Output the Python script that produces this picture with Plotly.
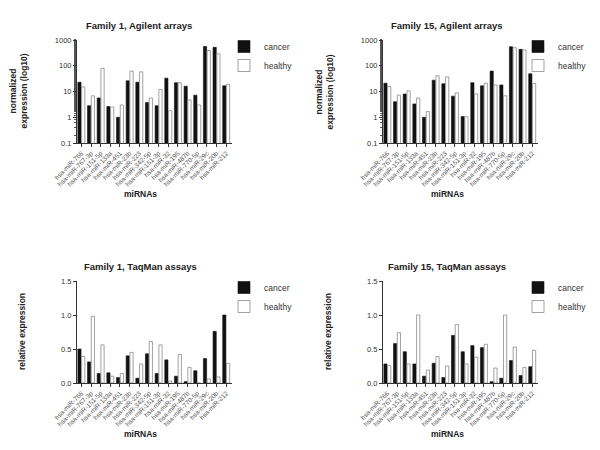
import plotly.graph_objects as go

mirnas = ["hsa-miR-766", "hsa-miR-767-3p", "hsa-miR-151-5p", "hsa-miR-133a",
          "hsa-miR-451", "hsa-miR-23b", "hsa-miR-223", "hsa-miR-342-5p",
          "hsa-miR-151-3p", "hsa-miR-32", "hsa-miR-195", "hsa-miR-487b",
          "hsa-miR-770-5p", "hsa-miR-29c", "hsa-miR-20b", "hsa-miR-212"]

f1_agilent_cancer = [23, 2.8, 5.6, 2.6, 1.0, 26, 23, 3.7, 2.8, 33, 22, 16, 7.2, 560, 520, 16.6]
f1_agilent_healthy = [15, 6.8, 79, 2.5, 3.0, 62, 58, 5.6, 12, 1.8, 22, 4.7, 3.0, 390, 290, 19]

f15_agilent_cancer = [21, 4.0, 8.0, 3.3, 1.0, 27.6, 20, 6.6, 1.06, 22, 16.6, 62, 18, 550, 433, 49]
f15_agilent_healthy = [15.6, 7.2, 10.6, 5.6, 1.66, 41, 37, 8.9, 1.05, 8.1, 21, 18, 6.8, 500, 410, 20.5]

f1_taqman_cancer = [0.50, 0.31, 0.14, 0.15, 0.08, 0.40, 0.07, 0.43, 0.14, 0.34, 0.10, 0.02, 0.18, 0.36, 0.76, 1.0]
f1_taqman_healthy = [0.39, 0.98, 0.56, 0.10, 0.14, 0.45, 0.28, 0.61, 0.56, 0.03, 0.42, 0.23, 0.0, 0.06, 0.09, 0.29]

f15_taqman_cancer = [0.28, 0.58, 0.46, 0.28, 0.10, 0.29, 0.08, 0.70, 0.46, 0.55, 0.52, 0.02, 0.07, 0.33, 0.11, 0.24]
f15_taqman_healthy = [0.26, 0.74, 0.28, 1.0, 0.19, 0.39, 0.25, 0.86, 0.28, 0.38, 0.57, 0.22, 1.0, 0.53, 0.23, 0.48]

titles = ["Family 1, Agilent arrays", "Family 15, Agilent arrays",
          "Family 1, TaqMan assays", "Family 15, TaqMan assays"]

W, H = 600, 450
OFF = 8  # default page margin of the browser body
FONT = "Liberation Sans, Arial, sans-serif"

def px_x(p):
    return (p - OFF) / W

def px_y(p):
    return 1 - (p - OFF) / H

panels = [
    dict(c=f1_agilent_cancer, h=f1_agilent_healthy, x0=77, x1=232, y0=40, y1=143, log=True,
         title=titles[0], tx=139, ty=25, lx=140, ly=194, yt="normalized<br>expression (log10)", ytx=18,
         legx=224, legy=32),
    dict(c=f15_agilent_cancer, h=f15_agilent_healthy, x0=383, x1=538, y0=40, y1=143, log=True,
         title=titles[1], tx=447, ty=25, lx=448, ly=194, yt="normalized<br>expression (log10)", ytx=324,
         legx=518, legy=32),
    dict(c=f1_taqman_cancer, h=f1_taqman_healthy, x0=77, x1=232, y0=281, y1=383, log=False,
         title=titles[2], tx=140, ty=266, lx=140, ly=434, yt="relative expression", ytx=22,
         legx=224, legy=273),
    dict(c=f15_taqman_cancer, h=f15_taqman_healthy, x0=383, x1=538, y0=281, y1=383, log=False,
         title=titles[3], tx=447, ty=266, lx=448, ly=434, yt="relative expression", ytx=328,
         legx=518, legy=273),
]

fig = go.Figure()
annotations = []
layout = {}

for i, p in enumerate(panels):
    n = "" if i == 0 else str(i + 1)
    xa, ya = "x" + n, "y" + n
    leg = "legend" + n
    fig.add_trace(go.Bar(x=mirnas, y=p["c"], name="cancer", xaxis=xa, yaxis=ya, legend=leg,
                         marker=dict(color="#111111", line=dict(color="#111111", width=0.6))))
    fig.add_trace(go.Bar(x=mirnas, y=p["h"], name="healthy", xaxis=xa, yaxis=ya, legend=leg,
                         marker=dict(color="white", line=dict(color="#8a8a8a", width=0.8))))
    xaxis = dict(domain=[px_x(p["x0"]), px_x(p["x1"])], anchor=ya, showline=True,
                 linecolor="#333333", linewidth=1, ticks="outside", ticklen=3, tickcolor="#333333",
                 tickangle=-45, tickfont=dict(size=6.5, color="#555555", family=FONT),
                 range=[-0.45, 15.6], showgrid=False, zeroline=False)
    if p["log"]:
        yaxis = dict(domain=[px_y(p["y1"]), px_y(p["y0"])], anchor=xa, type="log",
                     range=[-1, 3], tickvals=[0.1, 1, 10, 100, 1000],
                     ticktext=["0.1", "1", "10", "100", "1000"],
                     minor=dict(ticks="outside", ticklen=2, tickcolor="#555555", showgrid=False))
    else:
        yaxis = dict(domain=[px_y(p["y1"]), px_y(p["y0"])], anchor=xa,
                     range=[0, 1.5], tickvals=[0, 0.5, 1.0, 1.5], tickformat=".1f")
    yaxis.update(showline=True, linecolor="#333333", linewidth=1, ticks="outside", ticklen=3,
                 tickcolor="#333333", tickfont=dict(size=7.5, color="#333333", family=FONT),
                 showgrid=False, zeroline=False)
    layout["xaxis" + n] = xaxis
    layout["yaxis" + n] = yaxis
    layout[leg] = dict(x=px_x(p["legx"]), y=px_y(p["legy"]), xanchor="left", yanchor="top",
                       font=dict(size=8.5, color="#333333", family=FONT), bgcolor="rgba(0,0,0,0)",
                       itemwidth=30, tracegroupgap=0, borderwidth=0)
    annotations.append(dict(text="<b>" + p["title"] + "</b>", x=px_x(p["tx"]), y=px_y(p["ty"]),
                            xref="paper", yref="paper", showarrow=False, xanchor="center",
                            yanchor="middle", font=dict(size=9.5, color="#222222", family=FONT)))
    annotations.append(dict(text="<b>miRNAs</b>", x=px_x(p["lx"]), y=px_y(p["ly"]),
                            xref="paper", yref="paper", showarrow=False, xanchor="center",
                            yanchor="middle", font=dict(size=8.5, color="#222222", family=FONT)))
    annotations.append(dict(text="<b>" + p["yt"] + "</b>", x=px_x(p["ytx"]),
                            y=px_y((p["y0"] + p["y1"]) / 2), textangle=-90,
                            xref="paper", yref="paper", showarrow=False, xanchor="center",
                            yanchor="middle", font=dict(size=8.5, color="#222222", family=FONT)))

fig.update_layout(width=W, height=H, margin=dict(l=0, r=0, t=0, b=0, autoexpand=False),
                  paper_bgcolor="white", plot_bgcolor="white", barmode="group",
                  bargap=0.22, bargroupgap=0.15, annotations=annotations, **layout)

fig.write_html("out.html")
